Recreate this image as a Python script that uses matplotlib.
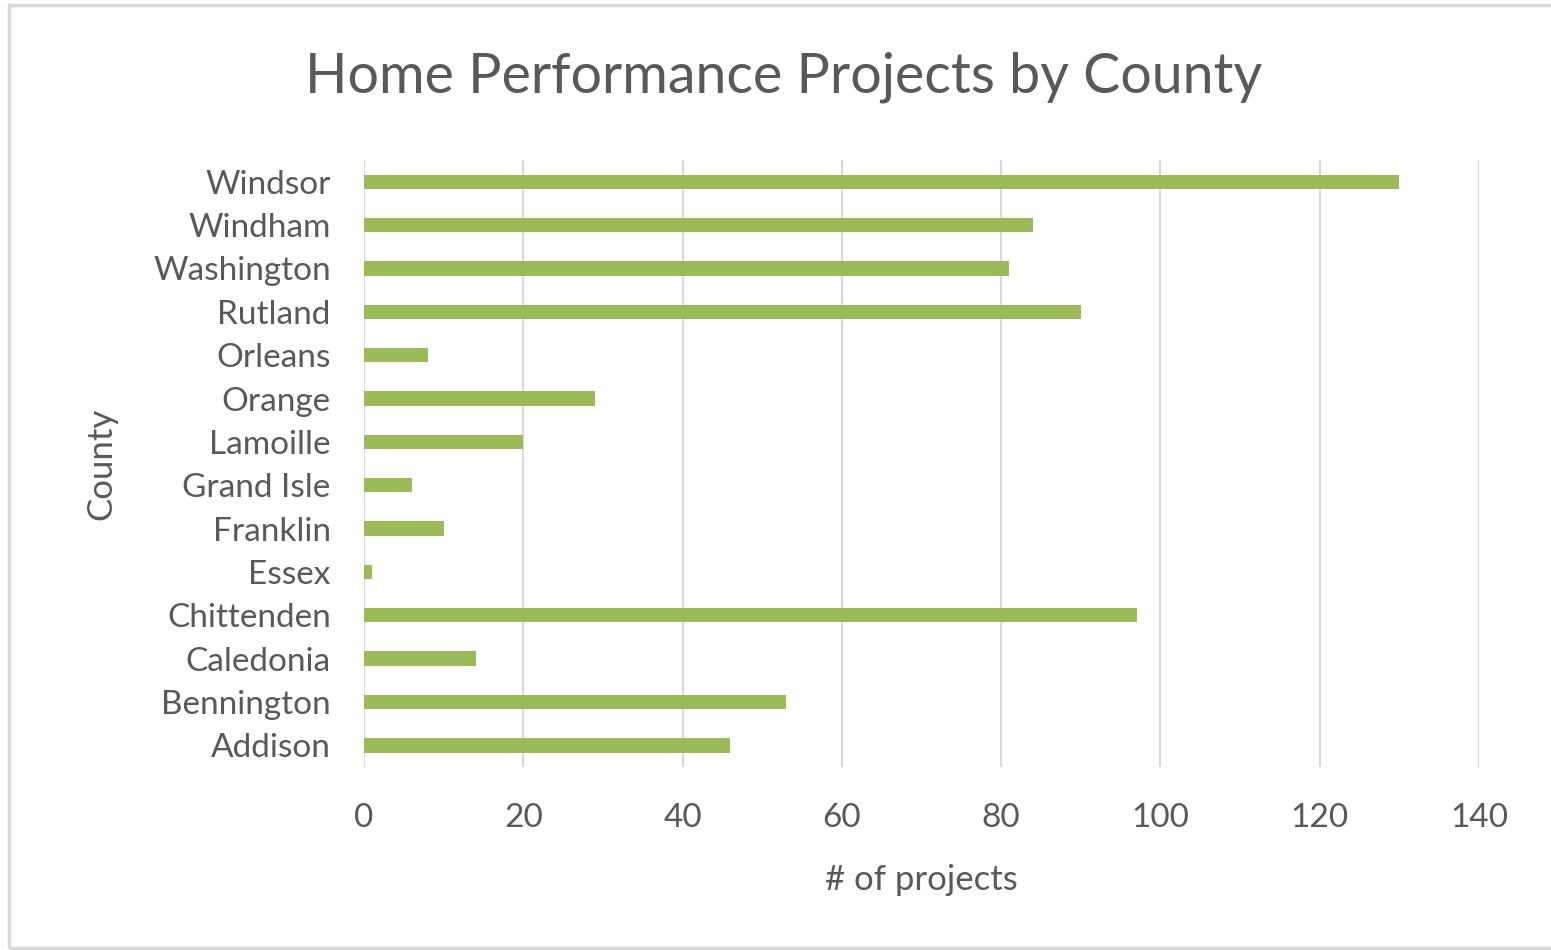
import numpy as np
import matplotlib
matplotlib.use("Agg")
import matplotlib.pyplot as plt
from matplotlib.patches import Rectangle

counties = ["Addison", "Bennington", "Caledonia", "Chittenden", "Essex", "Franklin",
            "Grand Isle", "Lamoille", "Orange", "Orleans", "Rutland", "Washington",
            "Windham", "Windsor"]
projects = [46, 53, 14, 97, 1, 10, 6, 20, 29, 8, 90, 81, 84, 130]
xticks = [0, 20, 40, 60, 80, 100, 120, 140]

plt.rcParams['font.family'] = ['Lato', 'DejaVu Sans']
grey = '#595959'

fig = plt.figure(figsize=(15.51, 9.5), dpi=100)
fig.patches.append(Rectangle((0.006, 0.002), 1.2, 0.993, transform=fig.transFigure,
                             fill=False, edgecolor='#d9d9d9', linewidth=2.5))
ax = fig.add_axes([0.2347, 0.1926, 0.7189, 0.6389])

y = np.arange(len(counties))
ax.barh(y, projects, height=0.33, color='#9bbb59', zorder=3)
ax.set_ylim(-0.5, len(counties) - 0.5)
ax.set_xlim(0, 140)
ax.set_xticks(xticks)
ax.set_yticks(y)
ax.set_yticklabels(counties)
ax.grid(axis='x', color='#d9d9d9', linewidth=1.5, zorder=0)
for s in ax.spines.values():
    s.set_visible(False)
ax.axvline(0, color='#d9d9d9', linewidth=1.5, zorder=1)
ax.tick_params(axis='both', length=0, labelsize=24, colors=grey)
ax.tick_params(axis='x', pad=26)
ax.tick_params(axis='y', pad=24)

ax.set_xlabel('# of projects', fontsize=25, color=grey, labelpad=22)
ax.set_ylabel('County', fontsize=25, color=grey, labelpad=26)
fig.text(0.5055, 0.919, 'Home Performance Projects by County', fontsize=40,
         color=grey, ha='center', va='center')

fig.savefig('out.png', dpi=100)
